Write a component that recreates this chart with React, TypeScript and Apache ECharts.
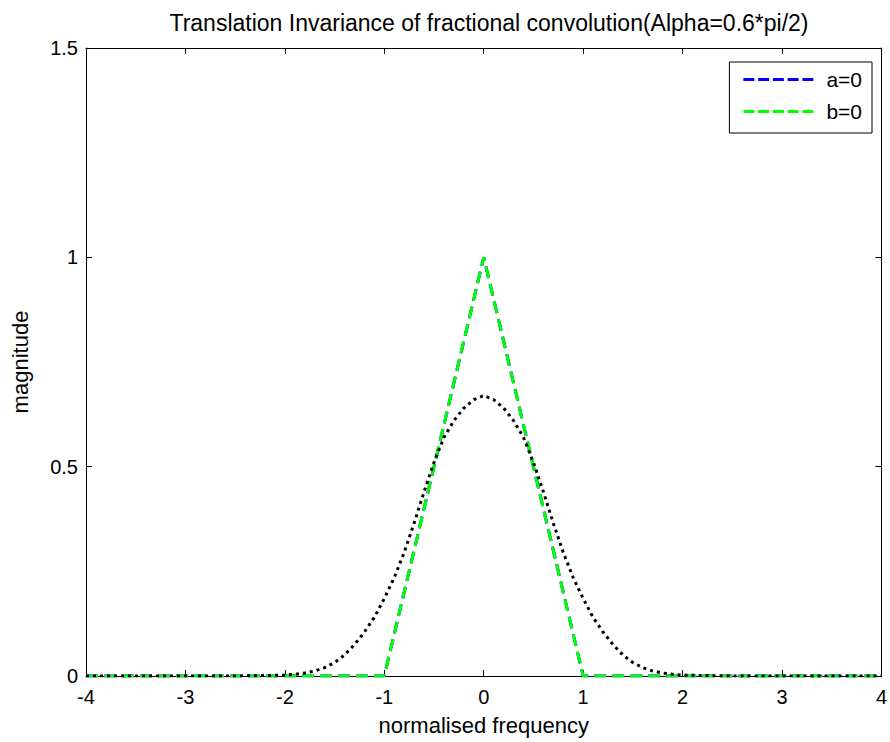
import React, { useEffect, useRef } from "react";
import * as echarts from "echarts";

const titleText = "Translation Invariance of fractional convolution(Alpha=0.6*pi/2)";
const xName = "normalised frequency";
const yName = "magnitude";

// triangle (a=0 and b=0 are identical)
const triX = [-4, -1, 0, 1, 4];
const triY = [0, 0, 1, 0, 0];

// fractional convolution result (black dotted)
const fracX = [-4, -3, -2.5, -2.0, -1.9, -1.8, -1.7, -1.6, -1.5, -1.4, -1.3, -1.2, -1.1, -1.0, -0.9, -0.8, -0.7, -0.6, -0.5, -0.4, -0.3, -0.2, -0.1, 0, 0.1, 0.2, 0.3, 0.4, 0.5, 0.6, 0.7, 0.8, 0.9, 1.0, 1.1, 1.2, 1.3, 1.4, 1.5, 1.6, 1.7, 1.8, 1.9, 2.0, 2.5, 3, 4];
const fracY = [0, 0, 0, 0.002, 0.004, 0.007, 0.012, 0.02, 0.032, 0.05, 0.075, 0.105, 0.14, 0.185, 0.235, 0.295, 0.365, 0.44, 0.51, 0.57, 0.61, 0.64, 0.66, 0.67, 0.66, 0.64, 0.61, 0.57, 0.51, 0.44, 0.365, 0.295, 0.235, 0.185, 0.14, 0.105, 0.075, 0.05, 0.032, 0.02, 0.012, 0.007, 0.004, 0.002, 0, 0, 0];

const legendNames = ["a=0", "b=0"];

const FONT = "Liberation Sans, Arial, sans-serif";
const DASH_ICON = "path://M0 0h11v3H0z M14.75 0h11v3h-11z M29.5 0h11v3h-11z M44.25 0h11v3h-11z M59 0h11v3h-11z";

export default function App() {
  const ref = useRef<HTMLDivElement>(null);
  useEffect(() => {
    if (!ref.current) return;
    const chart = echarts.init(ref.current, undefined, { renderer: "svg" });
    const tri = triX.map((x, i) => [x, triY[i]]);
    const frac = fracX.map((x, i) => [x, fracY[i]]);
    const axisLine = { show: true, onZero: false, lineStyle: { color: "#000", width: 1 } };
    const tick = { show: true, inside: true, length: 6, lineStyle: { color: "#000" } };
    chart.setOption({
      animation: false,
      backgroundColor: "#fff",
      textStyle: { fontFamily: FONT },
      title: {
        text: titleText,
        left: 484,
        textAlign: "center",
        top: 6,
        textStyle: { fontFamily: FONT, fontSize: 23, fontWeight: "normal", color: "#000" },
      },
      grid: { left: 86, right: 8, top: 48, bottom: 66, containLabel: false },
      legend: {
        data: legendNames.map((n) => ({ name: n, icon: DASH_ICON })),
        orient: "vertical",
        right: 18,
        top: 62,
        backgroundColor: "#fff",
        borderColor: "#000",
        borderWidth: 1,
        borderRadius: 0,
        padding: [7, 10, 11, 14],
        itemWidth: 70,
        itemHeight: 3,
        itemGap: 11,
        textStyle: { fontFamily: FONT, fontSize: 21, color: "#000", padding: [0, 0, 0, 8] },
      },
      xAxis: [
        {
          type: "value", min: -4, max: 4, interval: 1, position: "bottom",
          axisLine, axisTick: tick, splitLine: { show: false },
          axisLabel: { color: "#000", fontSize: 20, fontFamily: FONT, margin: 11, showMaxLabel: true, showMinLabel: true },
          name: xName, nameLocation: "middle", nameGap: 38,
          nameTextStyle: { color: "#000", fontSize: 22, fontFamily: FONT },
        },
        {
          type: "value", min: -4, max: 4, interval: 1, position: "top",
          axisLine, axisTick: tick, splitLine: { show: false }, axisLabel: { show: false },
        },
      ],
      yAxis: [
        {
          type: "value", min: 0, max: 1.5, interval: 0.5, position: "left",
          axisLine, axisTick: tick, splitLine: { show: false },
          axisLabel: { color: "#000", fontSize: 20, fontFamily: FONT, margin: 8 },
          name: yName, nameLocation: "middle", nameGap: 55, nameRotate: 90,
          nameTextStyle: { color: "#000", fontSize: 22, fontFamily: FONT },
        },
        {
          type: "value", min: 0, max: 1.5, interval: 0.5, position: "right",
          axisLine, axisTick: tick, splitLine: { show: false }, axisLabel: { show: false },
        },
      ],
      series: [
        {
          name: "a=0", type: "line", data: tri, symbol: "none", showSymbol: false,
          itemStyle: { color: "#0000ff" },
          lineStyle: { color: "#0000ff", width: 3, type: [12, 6] },
        },
        {
          name: "b=0", type: "line", data: tri, symbol: "none", showSymbol: false,
          itemStyle: { color: "#00ff00" },
          lineStyle: { color: "#00ff00", width: 3, type: [12, 6] },
        },
        {
          name: "frac", type: "line", data: frac, symbol: "none", showSymbol: false, smooth: false,
          itemStyle: { color: "#000" },
          lineStyle: { color: "#000", width: 3, type: [3, 4] },
        },
      ],
    });
    return () => chart.dispose();
  }, []);
  return <div ref={ref} style={{ position: "absolute", left: 0, top: 0, width: 890, height: 742 }} />;
}
